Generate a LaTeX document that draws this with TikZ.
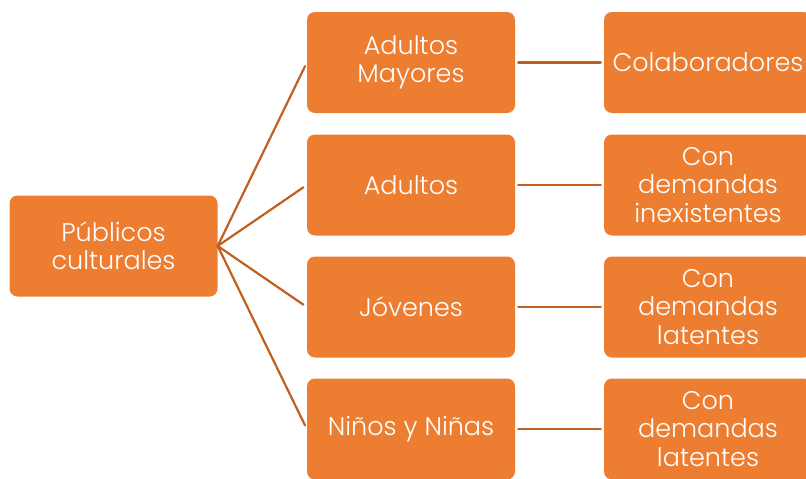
\documentclass[tikz,border=0pt]{standalone}
\usepackage{fontspec}
\setmainfont{Poppins}[UprightFont=* Light]
\usetikzlibrary{positioning}
\definecolor{naranja}{HTML}{ED7D31}
\definecolor{linea}{HTML}{C05F1E}
\tikzset{
  caja/.style={rectangle,rounded corners=8pt,fill=naranja,text=white,align=center,
    minimum width=208pt,minimum height=101pt,inner sep=0pt,
    font=\fontsize{25.5}{28.5}\selectfont},
  conector/.style={draw=linea,line width=2.2pt}
}
\begin{document}
\begin{tikzpicture}[x=1pt,y=-1pt,line cap=round,line join=round]
		\useasboundingbox (0,0) rectangle (806,479);
		\clip (0,0) rectangle (806,479);
		% raiz
		\node[caja] (publicos) at (113.5,246) {Públicos\\culturales};
		% columna central
		\node[caja] (mayores) at (411,62.5) {Adultos\\Mayores};
		\node[caja] (adultos) at (411,185) {Adultos};
		\node[caja] (jovenes) at (411,307) {Jóvenes};
		\node[caja] (ninos) at (411,429) {Niños y Niñas};
		% columna derecha
		\node[caja] (colab) at (708,62.5) {Colaboradores};
		\node[caja] (inexist) at (708,185) {Con\\demandas\\inexistentes};
		\node[caja] (latentesA) at (708,307) {Con\\demandas\\latentes};
		\node[caja] (latentesB) at (708,429) {Con\\demandas\\latentes};
		% conectores
		\draw[conector,shorten >=4pt] (publicos.east) -- (mayores.west);
		\draw[conector,shorten >=4pt] (publicos.east) -- (adultos.west);
		\draw[conector,shorten >=4pt] (publicos.east) -- (jovenes.west);
		\draw[conector,shorten >=4pt] (publicos.east) -- (ninos.west);
		\draw[conector,shorten <=3pt,shorten >=3pt] (mayores.east) -- (colab.west);
		\draw[conector,shorten <=3pt,shorten >=3pt] (adultos.east) -- (inexist.west);
		\draw[conector,shorten <=3pt,shorten >=3pt] (jovenes.east) -- (latentesA.west);
		\draw[conector,shorten <=3pt,shorten >=3pt] (ninos.east) -- (latentesB.west);
	\end{tikzpicture}
\end{document}
